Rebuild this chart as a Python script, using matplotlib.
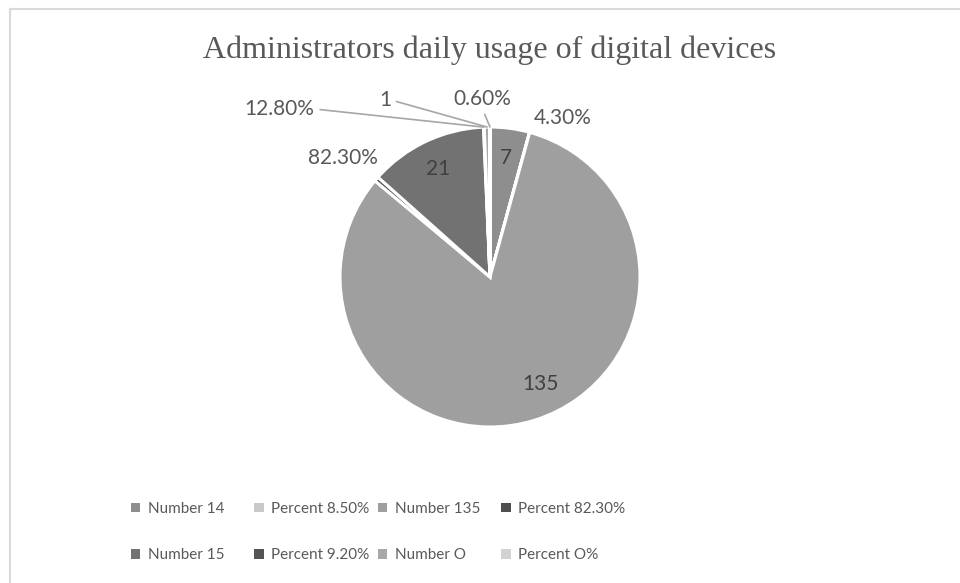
import matplotlib.pyplot as plt
import numpy as np
from matplotlib.lines import Line2D
from matplotlib.patches import Patch

title = "Administrators daily usage of digital devices"
categories = ["Number 14", "Percent 8.50%", "Number 135", "Percent 82.30%",
              "Number 15", "Percent 9.20%", "Number O", "Percent O%"]
values = [7, 0.043, 135, 0.823, 21, 0.128, 1, 0.006]
point_labels = ["7", "4.30%", "135", "82.30%", "21", "12.80%", "1", "0.60%"]
colors = ["#8e8e8e", "#c9c9c9", "#9f9f9f", "#4f4f4f",
          "#727272", "#545454", "#a8a8a8", "#d2d2d2"]

text_color = "#595959"
plt.rcParams['font.family'] = ['Lato', 'DejaVu Sans']

W, H = 960, 583
fig = plt.figure(figsize=(W / 100, H / 100), dpi=100)

# pie centre and radius in pixels
cx, cy, r = 490, 277, 150
ax = fig.add_axes([(cx - r) / W, (H - cy - r) / H, 2 * r / W, 2 * r / H])

wedges, _ = ax.pie(values, colors=colors, startangle=90, counterclock=False,
                   radius=1, wedgeprops=dict(edgecolor="white", linewidth=2.2))
ax.set_xlim(-1, 1)
ax.set_ylim(-1, 1)
ax.set_aspect("equal")
ax.axis("off")


def mid_dir(w, rad=1.0):
    a = np.deg2rad((w.theta1 + w.theta2) / 2)
    return rad * np.cos(a), rad * np.sin(a)


lbl_size = 15

# labels inside the bigger slices
for i in (0, 2, 4):
    x, y = mid_dir(wedges[i], 0.8)
    if i == 2:
        x, y = x + 0.1, y + 0.05
    ax.text(x, y, point_labels[i], ha="center", va="center",
            fontsize=lbl_size, color="#404040")

# labels just outside
x, y = mid_dir(wedges[1], 1.1)
ax.text(x, y, point_labels[1], ha="left", va="center", fontsize=lbl_size, color=text_color)
ax.text(-0.75, 0.79, point_labels[3], ha="right", va="center", fontsize=lbl_size, color=text_color)

# labels with leader lines (Excel placed them by hand)
leader = {5: ((-1.17, 1.12), "right", "center", (1, 0.5)),
          6: ((-0.66, 1.18), "right", "center", (1, 0.5)),
          7: ((-0.05, 1.12), "center", "bottom", (0.5, 0))}
for i, (pos, ha, va, rel) in leader.items():
    ax.annotate(point_labels[i], xy=mid_dir(wedges[i], 1.0), xytext=pos,
                ha=ha, va=va, fontsize=lbl_size, color=text_color,
                arrowprops=dict(arrowstyle="-", color="#a6a6a6", lw=1.2,
                                shrinkA=2, shrinkB=0, relpos=rel),
                annotation_clip=False)

fig.text(cx / W, 1 - 50 / H, title, ha="center", va="center",
         fontsize=23, family="Liberation Serif", color=text_color)

# chart frame (only top and left edges are visible)
fig.add_artist(Line2D([9.5 / W, 9.5 / W], [0, 1 - 9 / H], color="#d9d9d9", lw=1.5))
fig.add_artist(Line2D([9.5 / W, 1], [1 - 9 / H, 1 - 9 / H], color="#d9d9d9", lw=1.5))

# legend: 4 equal width columns, 2 rows
handles = [Patch(facecolor=c, edgecolor="none") for c in colors]
for j in range(4):
    fig.legend(handles=[handles[j], handles[j + 4]],
               labels=[categories[j], categories[j + 4]],
               loc="upper left", bbox_to_anchor=((131 + 123.5 * j) / W, 1 - 502 / H),
               frameon=False, fontsize=11, labelcolor=text_color,
               handlelength=0.6, handleheight=0.6, handletextpad=0.5,
               labelspacing=2.1, borderpad=0, borderaxespad=0)

fig.savefig("out.png", dpi=100)
